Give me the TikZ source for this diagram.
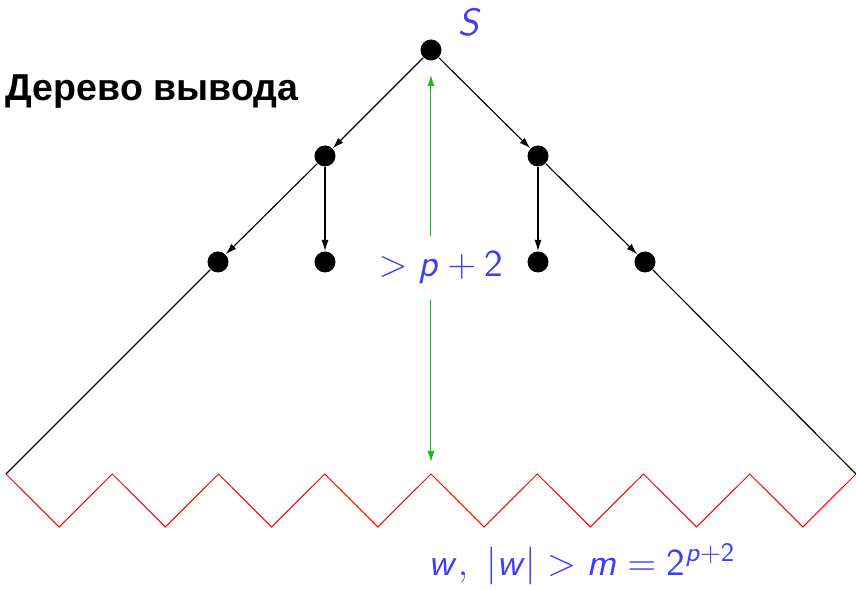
\documentclass[tikz,border=0pt]{standalone}
\usepackage{fix-cm}
\usepackage{fontspec}
\newfontfamily\titlefont{Liberation Sans}
\usetikzlibrary{arrows.meta}
\DeclareMathAlphabet{\mathsfit}{OT1}{cmss}{m}{sl}
\definecolor{DerBlue}{RGB}{60,60,250}
\definecolor{DerGreen}{RGB}{20,190,20}
\tikzset{
  dot/.style={circle,fill=black,inner sep=0pt,minimum size=8.4pt},
  tree/.style={->,line width=0.45pt},
  hgt/.style={->,DerGreen,line width=0.4pt},
  zig/.style={red,line width=0.4pt,line join=miter},
  bluelbl/.style={text=DerBlue,font=\fontsize{15.2}{18}\selectfont}
}
\begin{document}
\begin{tikzpicture}[x=0.4pt,y=-0.4pt,>={Latex[length=4.4pt,width=2.8pt]}]
\useasboundingbox (0,0) rectangle (856,590);
% root and inner nodes
\node[dot] (s) at (431,50) {};
\node[dot] (l1) at (325,156) {};\node[dot] (r1) at (538,156) {};
\node[dot] (l2) at (218,262) {};\node[dot] (lm) at (325,262) {};
\node[dot] (rm) at (538,262) {};\node[dot] (r2) at (645,262) {};
\coordinate (zl) at (6,474);\coordinate (zr) at (856,474);
\draw[tree] (s)--(l1);\draw[tree] (s)--(r1);
\draw[tree] (l1)--(l2);\draw[tree] (l1)--(lm);
\draw[tree] (r1)--(rm);\draw[tree] (r1)--(r2);
\draw[line width=0.45pt] (l2)--(zl);\draw[line width=0.45pt] (r2)--(zr);
% the yield w
\draw[zig] (zl) \foreach \i in {1,...,8}{ -- ++(53.125,53) -- ++(53.125,-53)};
% height
\node[bluelbl] (hlbl) at (441,267) {$> \mathsfit{p} + \mathsf{2}$};
\coordinate (gtop) at (431,75);\coordinate (gbot) at (431,462);
\coordinate (ga) at (431,236);\coordinate (gb) at (431,300);
\draw[hgt] (ga)--(gtop);\draw[hgt] (gb)--(gbot);
% labels
\node[bluelbl] (slbl) at (470,22) {$\mathsfit{S}$};
\node[font=\titlefont\bfseries\fontsize{15}{18}\selectfont] (title) at (152,92) {Дерево вывода};
\node[bluelbl] (wlbl) at (582,564) {$\mathsfit{w},\ |\mathsfit{w}| > \mathsfit{m} = \mathsf{2}^{\mathsfit{p}+\mathsf{2}}$};
\end{tikzpicture}
\end{document}
